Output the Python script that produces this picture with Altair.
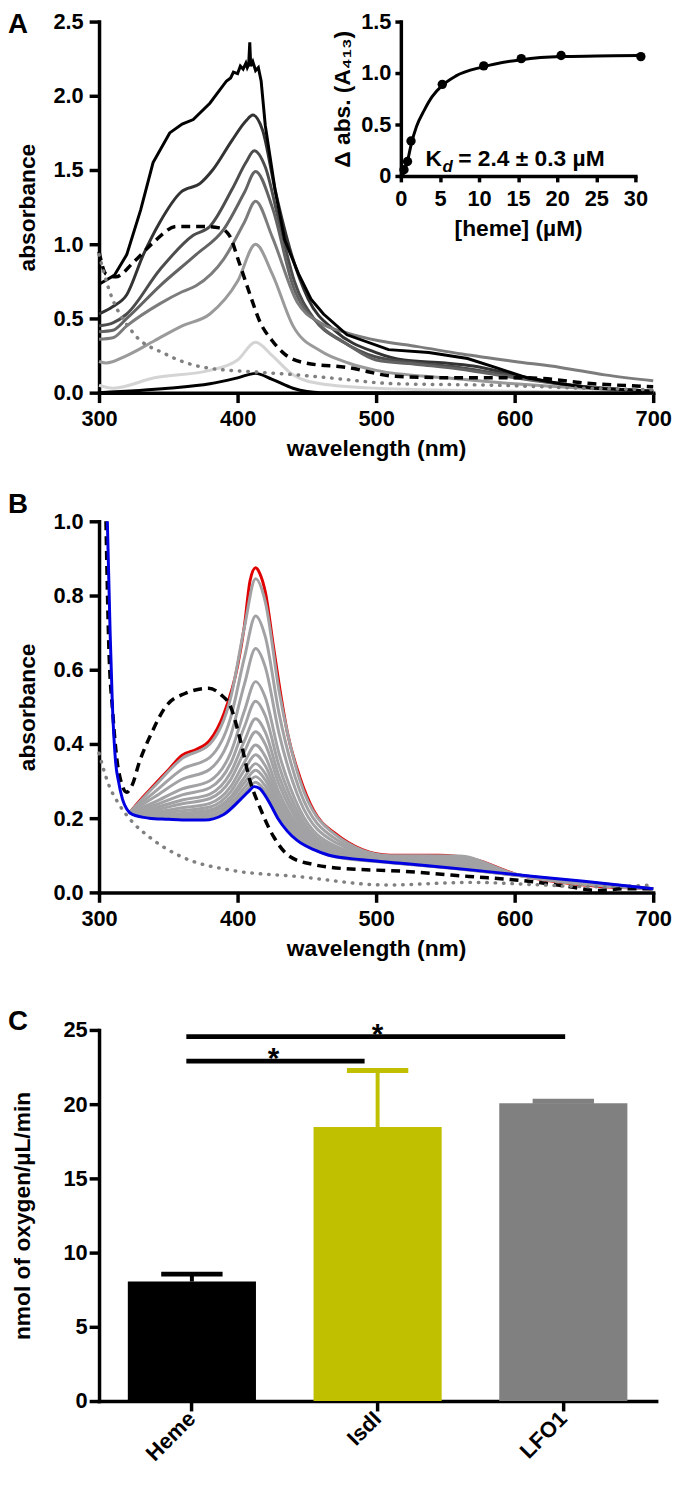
import altair as alt
import pandas as pd

FONT = "Liberation Sans"
W = 560
H = 375

# ---------------- Panel A : spectra ----------------
a_c1_wl = [300, 311, 320, 330, 339, 351, 360, 368, 380, 392, 395, 397, 400, 402, 404, 406, 407, 408, 408.8, 409.5, 411, 413, 415, 417,
           420, 427, 434, 444, 453, 462, 479, 509, 538, 566, 586, 609, 633, 657, 680, 700]
a_c1_abs = [0.73, 0.79, 0.93, 1.23, 1.55, 1.75, 1.81, 1.84, 1.95, 2.10, 2.12, 2.16, 2.15, 2.20, 2.18, 2.22, 2.19, 2.21, 2.36, 2.20, 2.23, 2.17, 2.19, 2.10,
            1.80, 1.37, 1.03, 0.80, 0.63, 0.53, 0.39, 0.29, 0.27, 0.23, 0.17, 0.10, 0.06, 0.03, 0.02, 0.01]

a_c2_wl = [300, 310, 320, 332, 344, 359, 373, 382, 396, 406, 411, 418, 427, 439, 451, 470, 500, 520, 550, 570, 600, 640, 680, 700]
a_c2_abs = [0.53, 0.58, 0.66, 0.93, 1.15, 1.35, 1.41, 1.50, 1.70, 1.83, 1.87, 1.77, 1.37, 0.93, 0.63, 0.42, 0.27, 0.22, 0.20, 0.18, 0.12, 0.05, 0.02, 0.01]

a_c3_wl = [300, 310, 320, 344, 368, 380, 396, 406, 412, 420, 430, 441, 455, 475, 500, 530, 560, 600, 640, 700]
a_c3_abs = [0.45, 0.47, 0.53, 0.83, 1.06, 1.12, 1.37, 1.55, 1.63, 1.52, 1.15, 0.75, 0.50, 0.35, 0.24, 0.20, 0.17, 0.11, 0.05, 0.01]

a_c4_wl = [300, 310, 320, 344, 370, 390, 405, 413, 425, 440, 460, 480, 500, 530, 560, 600, 640, 700]
a_c4_abs = [0.41, 0.42, 0.50, 0.72, 0.93, 1.10, 1.35, 1.49, 1.25, 0.72, 0.45, 0.32, 0.22, 0.19, 0.16, 0.10, 0.05, 0.01]

a_c5_wl = [300, 310, 320, 344, 360, 370, 390, 405, 413, 425, 443, 460, 480, 502, 530, 562, 600, 633, 665, 700]
a_c5_abs = [0.36, 0.37, 0.45, 0.60, 0.68, 0.72, 0.90, 1.15, 1.29, 1.05, 0.61, 0.47, 0.40, 0.35, 0.31, 0.26, 0.21, 0.17, 0.12, 0.08]

a_c6_wl = [300, 305, 320, 340, 360, 380, 400, 413, 425, 440, 460, 480, 500, 550, 600, 650, 700]
a_c6_abs = [0.21, 0.20, 0.25, 0.35, 0.45, 0.53, 0.75, 1.00, 0.80, 0.45, 0.28, 0.20, 0.15, 0.10, 0.06, 0.03, 0.01]

a_c7_wl = [300, 310, 340, 380, 400, 413, 425, 440, 460, 500, 600, 700]
a_c7_abs = [0.05, 0.03, 0.10, 0.15, 0.22, 0.34, 0.25, 0.12, 0.06, 0.03, 0.01, 0.00]

a_c8_wl = [300, 350, 380, 400, 413, 425, 440, 460, 700]
a_c8_abs = [0.00, 0.03, 0.06, 0.10, 0.13, 0.09, 0.03, 0.00, 0.00]

a_solid_names = ["c2", "c3", "c4", "c5", "c6", "c7", "c8"]
a_solid_colors = ["#333333", "#4d4d4d", "#636363", "#7c7c7c", "#9a9a9a", "#d4d4d4", "#000000"]

a_dash_wl = [300, 305, 312, 325, 339, 356, 375, 387, 394, 401, 409, 416, 425, 434, 449, 479, 514, 562, 609, 657, 700]
a_dash_abs = [0.95, 0.80, 0.78, 0.88, 1.01, 1.12, 1.12, 1.11, 1.06, 0.88, 0.66, 0.48, 0.35, 0.26, 0.20, 0.17, 0.11, 0.10, 0.10, 0.06, 0.04]

a_dot_wl = [300, 307, 324, 348, 376, 412, 443, 466, 514, 586, 650, 700]
a_dot_abs = [0.93, 0.70, 0.41, 0.26, 0.17, 0.14, 0.12, 0.10, 0.06, 0.05, 0.03, 0.02]

# inset: titration
ins_heme = [0.4, 0.85, 1.3, 5.3, 10.6, 15.4, 20.5, 30.7]
ins_dabs = [0.06, 0.14, 0.34, 0.89, 1.07, 1.14, 1.17, 1.16]
fit_heme = [0.2, 0.6, 0.9, 1.3, 2.0, 3.0, 4.0, 5.3, 7.0, 10.5, 15.4, 20.5, 25.0, 30.5]
fit_dabs = [0.0, 0.08, 0.16, 0.30, 0.48, 0.64, 0.77, 0.88, 0.97, 1.06, 1.13, 1.16, 1.165, 1.17]

# ---------------- Panel B : titration spectra ----------------
b_grey_wl = [322, 340, 360, 380, 395, 405, 413, 420, 430, 445, 470, 510, 560, 600, 700]
b_grey_abs = [
    [.215, .286, .361, .400, .524, .716, .845, .783, .542, .302, .157, .099, .098, .050, .010],
    [.215, .270, .332, .364, .471, .634, .745, .689, .481, .273, .146, .096, .092, .049, .010],
    [.215, .257, .305, .332, .423, .562, .657, .607, .427, .247, .136, .093, .086, .049, .010],
    [.215, .243, .279, .301, .376, .490, .568, .525, .373, .222, .126, .090, .080, .048, .010],
    [.215, .235, .263, .282, .348, .447, .515, .476, .340, .206, .120, .088, .077, .048, .010],
    [.215, .228, .249, .265, .323, .409, .468, .432, .312, .193, .115, .086, .074, .048, .010],
    [.215, .222, .239, .253, .304, .380, .433, .399, .290, .183, .111, .085, .072, .048, .010],
    [.215, .217, .228, .240, .285, .351, .397, .366, .268, .172, .107, .084, .069, .047, .010],
    [.215, .213, .220, .230, .271, .330, .371, .341, .252, .165, .104, .083, .068, .047, .010],
    [.215, .209, .213, .222, .258, .310, .347, .320, .238, .158, .102, .082, .066, .047, .010],
    [.215, .207, .208, .216, .249, .296, .329, .303, .227, .153, .100, .082, .065, .047, .010],
    [.215, .204, .203, .209, .239, .282, .312, .287, .216, .148, .098, .081, .064, .047, .010],
    [.215, .202, .199, .204, .231, .270, .297, .273, .207, .143, .096, .080, .063, .047, .010],
]

b_red_wl = [322, 330, 340, 350, 360, 370, 380, 390, 400, 405, 409, 413, 416, 420, 426, 430, 436, 445, 455, 470, 510, 545, 570, 600, 650, 700]
b_red_abs = [.215, .25, .29, .33, .37, .385, .41, .48, .61, .72, .84, .875, .86, .81, .66, .56, .43, .31, .22, .16, .10, .10, .09, .05, .02, .01]

b_blue_wl = [306, 308, 309.5, 312, 314, 317, 320, 324, 336, 350, 360, 376, 390, 402, 408, 412, 416, 419, 424, 429, 436, 443, 455,
             466, 490, 520, 543, 570, 614, 650, 700]
b_blue_abs = [1.0, 0.70, 0.52, 0.35, 0.30, 0.25, 0.225, 0.21, 0.20, 0.197, 0.195, 0.195, 0.21, 0.25, 0.272, 0.285, 0.28, 0.266, 0.235,
              0.20, 0.165, 0.14, 0.115, 0.10, 0.088, 0.078, 0.07, 0.06, 0.043, 0.03, 0.01]

b_dash_wl = [305, 307, 310, 314, 320, 324, 329, 338, 348, 362, 379, 388, 395, 402, 409, 416, 426, 438, 455, 471, 519, 567, 610, 640, 660, 680, 700]
b_dash_abs = [1.0, 0.67, 0.48, 0.33, 0.27, 0.29, 0.35, 0.43, 0.50, 0.536, 0.55, 0.533, 0.50, 0.41, 0.30, 0.23, 0.15, 0.096, 0.075, 0.066,
              0.057, 0.043, 0.03, 0.015, 0.005, 0.01, 0.01]

b_dot_wl = [300, 307, 314, 324, 336, 359, 395, 443, 507, 569, 620, 657, 700]
b_dot_abs = [0.375, 0.29, 0.24, 0.19, 0.15, 0.097, 0.06, 0.043, 0.02, 0.027, 0.02, 0.015, 0.02]

# ---------------- Panel C : oxygen consumption ----------------
c_cats = ["Heme", "IsdI", "LFO1"]
c_means = [8.05, 18.46, 20.07]
c_upper = [8.55, 22.27, 20.20]
c_colors = ["#000000", "#c0c000", "#808080"]
sig_start = [0.47, 0.47]
sig_end = [2.51, 1.43]
sig_level = [24.55, 22.9]
sig_star_pos = [1.50, 0.94]
sig_label = ["*", "*"]

panel_letters = ["A", "B", "C"]


def spec(wl, vals, name="s"):
    return pd.DataFrame({"wl": wl, "absb": vals, "s": name})


def letter(t, yoff):
    return alt.Chart(pd.DataFrame({"t": [t]})).mark_text(
        font=FONT, fontSize=28, fontWeight="bold", align="left", baseline="top", color="black"
    ).encode(text="t:N", x=alt.value(-92), y=alt.value(yoff))


# ---- Panel A ----
xA = alt.X("wl:Q", scale=alt.Scale(domain=[300, 700], nice=False, zero=False),
           axis=alt.Axis(values=[300, 400, 500, 600, 700], format="d", title="wavelength (nm)",
                         labelPadding=6, titlePadding=9))
yA = alt.Y("absb:Q", scale=alt.Scale(domain=[0, 2.5], nice=False),
           axis=alt.Axis(values=[0, 0.5, 1.0, 1.5, 2.0, 2.5], format=".1f", title="absorbance",
                         labelPadding=6, titlePadding=14))

a_solid_df = pd.concat([
    spec(a_c2_wl, a_c2_abs, "c2"), spec(a_c3_wl, a_c3_abs, "c3"), spec(a_c4_wl, a_c4_abs, "c4"),
    spec(a_c5_wl, a_c5_abs, "c5"), spec(a_c6_wl, a_c6_abs, "c6"), spec(a_c7_wl, a_c7_abs, "c7"),
    spec(a_c8_wl, a_c8_abs, "c8"),
])
a_solid_df["clr"] = a_solid_df["s"].map(dict(zip(a_solid_names, a_solid_colors)))

a_solid = alt.Chart(a_solid_df).mark_line(strokeWidth=3, interpolate="monotone").encode(
    x=xA, y=yA, color=alt.Color("clr:N", scale=None), detail="s:N")
a_top = alt.Chart(spec(a_c1_wl, a_c1_abs, "c1")).mark_line(strokeWidth=3, color="black").encode(x=xA, y=yA)
a_dash = alt.Chart(spec(a_dash_wl, a_dash_abs, "dash")).mark_line(
    strokeWidth=3.5, color="black", strokeDash=[9, 6], interpolate="monotone").encode(x=xA, y=yA)
a_dot = alt.Chart(spec(a_dot_wl, a_dot_abs, "dot")).mark_line(
    strokeWidth=3.5, color="#808080", strokeDash=[0.5, 8], strokeCap="round", interpolate="monotone").encode(x=xA, y=yA)

a_main = alt.layer(a_solid, a_top, a_dash, a_dot, letter(panel_letters[0], -10))

xI = alt.X("h:Q", scale=alt.Scale(domain=[0, 30], range=[305, 542], nice=False, zero=False),
           axis=alt.Axis(orient="bottom", offset=-219, values=[0, 5, 10, 15, 20, 25, 30], format="d",
                         tickSize=6, labelPadding=7, titlePadding=8, title="[heme] (µM)"))
yI = alt.Y("d:Q", scale=alt.Scale(domain=[0, 1.5], range=[156, 0], nice=False),
           axis=alt.Axis(orient="left", offset=-305, values=[0, 0.5, 1.0, 1.5],
                         labelExpr="datum.value == 0 ? '0' : format(datum.value, '.1f')",
                         tickSize=6, labelPadding=4, titlePadding=6, title="Δ abs. (A₄₁₃)"))

fit = alt.Chart(pd.DataFrame({"h": fit_heme, "d": fit_dabs})).mark_line(
    strokeWidth=3, color="black", interpolate="monotone").encode(x=xI, y=yI)
pts = alt.Chart(pd.DataFrame({"h": ins_heme, "d": ins_dabs})).mark_circle(
    size=90, color="black", opacity=1).encode(x=xI, y=yI)
kd_df = pd.DataFrame({"h": [3.16], "d": [0.096], "k": ["K"], "sub": ["d"], "rest": ["= 2.4 ± 0.3 µM"]})
kd_k = alt.Chart(kd_df).mark_text(font=FONT, fontSize=23, fontWeight="bold", align="left",
                                  baseline="alphabetic", color="black").encode(x=xI, y=yI, text="k:N")
kd_sub = alt.Chart(kd_df).mark_text(font=FONT, fontSize=17, fontWeight="bold", fontStyle="italic", align="left",
                                    baseline="alphabetic", color="black", dx=17, dy=6).encode(x=xI, y=yI, text="sub:N")
kd_rest = alt.Chart(kd_df).mark_text(font=FONT, fontSize=23, fontWeight="bold", align="left",
                                     baseline="alphabetic", color="black", dx=33).encode(x=xI, y=yI, text="rest:N")
a_inset = alt.layer(fit, pts, kd_k, kd_sub, kd_rest)

panelA = alt.layer(a_main, a_inset).resolve_scale(x="independent", y="independent").properties(width=W, height=H)

# ---- Panel B ----
xB = alt.X("wl:Q", scale=alt.Scale(domain=[300, 700], nice=False, zero=False),
           axis=alt.Axis(values=[300, 400, 500, 600, 700], format="d", title="wavelength (nm)",
                         labelPadding=6, titlePadding=9))
yB = alt.Y("absb:Q", scale=alt.Scale(domain=[0, 1.0], nice=False),
           axis=alt.Axis(values=[0, 0.2, 0.4, 0.6, 0.8, 1.0], format=".1f", title="absorbance",
                         labelPadding=6, titlePadding=14))

b_grey_df = pd.concat([spec(b_grey_wl, v, "g%d" % i) for i, v in enumerate(b_grey_abs)])
b_grey = alt.Chart(b_grey_df).mark_line(strokeWidth=3, color="#a2a2a5", interpolate="monotone").encode(
    x=xB, y=yB, detail="s:N")
b_red = alt.Chart(spec(b_red_wl, b_red_abs)).mark_line(strokeWidth=3, color="#e00000", interpolate="monotone").encode(x=xB, y=yB)
b_blue = alt.Chart(spec(b_blue_wl, b_blue_abs)).mark_line(strokeWidth=3, color="#0000e0", interpolate="monotone").encode(x=xB, y=yB)
b_dash = alt.Chart(spec(b_dash_wl, b_dash_abs)).mark_line(
    strokeWidth=3.5, color="black", strokeDash=[9, 6], interpolate="monotone").encode(x=xB, y=yB)
b_dot = alt.Chart(spec(b_dot_wl, b_dot_abs)).mark_line(
    strokeWidth=3.5, color="#808080", strokeDash=[0.5, 8], strokeCap="round", interpolate="monotone").encode(x=xB, y=yB)

panelB = alt.layer(b_red, b_grey, b_dash, b_dot, b_blue, letter(panel_letters[1], -30)).properties(width=W, height=H)

# ---- Panel C ----
c_df = pd.DataFrame({"cat": c_cats, "val": c_means, "upper": c_upper, "clr": c_colors})
xC = alt.X("cat:N", sort=c_cats, scale=alt.Scale(paddingInner=0.31, paddingOuter=0.155),
           axis=alt.Axis(title=None, labelAngle=-45, labelAlign="right", labelBaseline="middle", labelPadding=4))
yTitle = "nmol of oxygen/µL/min"
yAxC = alt.Axis(values=[0, 5, 10, 15, 20, 25], format="d", labelPadding=2, titlePadding=29, title=yTitle)
yScC = alt.Scale(domain=[0, 25], nice=False)
colC = alt.Color("clr:N", scale=None)

bars = alt.Chart(c_df).mark_bar().encode(x=xC, y=alt.Y("val:Q", scale=yScC, axis=yAxC, title=yTitle), color=colC)
err = alt.Chart(c_df).mark_rule(strokeWidth=4).encode(
    x=xC, y=alt.Y("val:Q", scale=yScC, axis=yAxC, title=yTitle), y2="upper:Q", color=colC)
cap = alt.Chart(c_df).mark_tick(thickness=5, size=62, opacity=1).encode(
    x=xC, y=alt.Y("upper:Q", scale=yScC, axis=yAxC, title=yTitle), color=colC)
c_bars = alt.layer(bars, err, cap)

sig_df = pd.DataFrame({"sx": sig_start, "sx2": sig_end, "val": sig_level, "star": sig_star_pos, "lab": sig_label})
xS = alt.X("sx:Q", scale=alt.Scale(domain=[0, 3], nice=False, zero=False), axis=None)
sig_lines = alt.Chart(sig_df).mark_rule(strokeWidth=5, color="black").encode(
    x=xS, x2="sx2:Q", y=alt.Y("val:Q", scale=yScC, axis=yAxC, title=yTitle))
sig_stars = alt.Chart(sig_df).mark_text(font=FONT, fontSize=30, fontWeight="bold", baseline="alphabetic",
                                        color="black", dy=7).encode(
    x=alt.X("star:Q", scale=alt.Scale(domain=[0, 3], nice=False, zero=False), axis=None),
    y=alt.Y("val:Q", scale=yScC, axis=yAxC, title=yTitle), text="lab:N")
c_sig = alt.layer(sig_lines, sig_stars)

panelC = alt.layer(c_bars, c_sig, letter(panel_letters[2], -22)).resolve_scale(x="independent").properties(width=563, height=H)

chart = alt.vconcat(
    panelA,
    alt.vconcat(panelB, panelC, spacing=48),
    spacing=31,
).properties(padding={"left": 0, "top": -5, "right": 0, "bottom": 0}).configure_view(stroke=None).configure_axis(
    labelFont=FONT, titleFont=FONT, labelFontSize=22, titleFontSize=23,
    labelFontWeight="bold", titleFontWeight="bold", labelColor="black", titleColor="black",
    domainColor="black", tickColor="black", domainWidth=3.5, tickWidth=3.5, tickSize=10,
    domainCap="square", grid=False, labelOverlap=False, labelFlush=False,
).configure_text(font=FONT)

chart.save("out.html", embed_options={"renderer": "svg", "actions": False})
